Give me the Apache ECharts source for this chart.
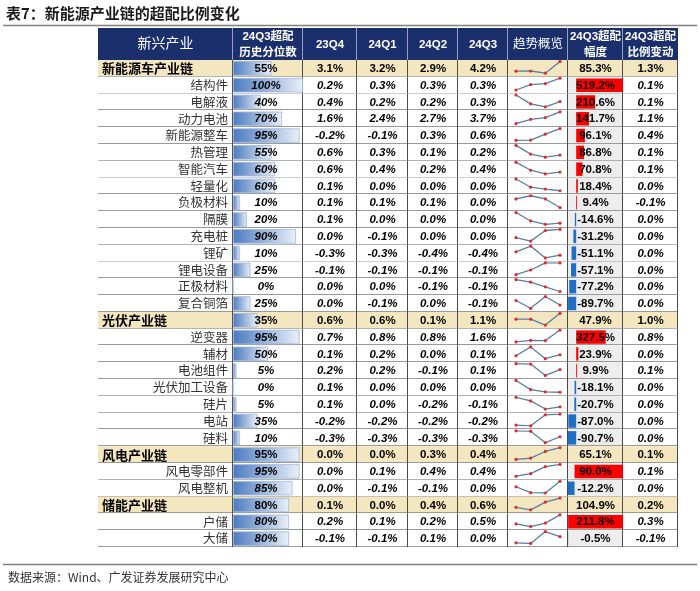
<!DOCTYPE html>
<html><head><meta charset="utf-8">
<script src="https://cdn.jsdelivr.net/npm/echarts@6/dist/echarts.min.js"></script>
<style>html,body{margin:0;padding:0;background:#fff}#c{width:700px;height:591px}</style>
</head><body><div id="c"></div>
<script>
// ---------------- DATA ----------------
const industries = ['新能源车产业链','结构件','电解液','动力电池','新能源整车','热管理','智能汽车','轻量化','负极材料','隔膜','充电桩','锂矿','锂电设备','正极材料','复合铜箔','光伏产业链','逆变器','辅材','电池组件','光伏加工设备','硅片','电站','硅料','风电产业链','风电零部件','风电整机','储能产业链','户储','大储'];
const chainNames = ['新能源车产业链','光伏产业链','风电产业链','储能产业链'];
const headers = ['新兴产业','24Q3超配\n历史分位数','23Q4','24Q1','24Q2','24Q3','趋势概览','24Q3超配\n幅度','24Q3超配\n比例变动'];
const quarters = ['23Q4','24Q1','24Q2','24Q3'];
const pctRank = [55,100,40,70,95,55,60,60,10,20,90,10,25,0,25,35,95,50,5,0,5,35,10,95,95,85,80,80,80];
const q23Q4 = [3.1,0.2,0.4,1.6,-0.2,0.6,0.6,0.1,0.1,0.1,0.0,-0.3,-0.1,0.0,0.0,0.6,0.7,0.1,0.2,0.1,0.1,-0.2,-0.3,0.0,0.0,0.0,0.1,0.2,-0.1];
const q24Q1 = [3.2,0.3,0.2,2.4,-0.1,0.3,0.4,0.0,0.1,0.0,-0.1,-0.3,-0.1,0.0,-0.1,0.6,0.8,0.2,0.2,0.0,0.0,-0.2,-0.3,0.0,0.1,-0.1,0.0,0.1,-0.1];
const q24Q2 = [2.9,0.3,0.2,2.7,0.3,0.1,0.2,0.0,0.1,0.0,0.0,-0.4,-0.1,-0.1,0.0,0.1,0.8,0.0,-0.1,0.0,-0.2,-0.2,-0.3,0.3,0.4,-0.1,0.4,0.2,0.1];
const q24Q3 = [4.2,0.3,0.3,3.7,0.6,0.2,0.4,0.0,0.0,0.0,0.0,-0.4,-0.1,-0.1,-0.1,1.1,1.6,0.1,0.1,0.0,-0.1,-0.2,-0.3,0.4,0.4,0.0,0.6,0.5,0.0];
// unrounded estimates behind the sparklines (23Q4..24Q3)
const trendValues = [
 [3.14,3.16,2.92,4.22],[0.22,0.266,0.274,0.32],[0.36,0.24,0.20,0.27],[1.6,2.35,2.66,3.7],
 [-0.16,-0.14,0.26,0.64],[0.60,0.26,0.14,0.22],[0.6,0.34,0.22,0.28],[0.10,0.03,0.014,0.0],
 [0.10,0.13,0.10,0.02],[0.08,0.03,0.01,0.017],[-0.04,-0.07,0.02,0.03],[-0.338,-0.26,-0.42,-0.383],
 [-0.14,-0.12,-0.09,-0.09],[0.0,-0.02,-0.06,-0.10],[-0.027,-0.08,0.0,-0.058],[0.6,0.6,0.1,1.1],
 [0.7,0.82,0.8,1.6],[0.07,0.16,0.04,0.08],[0.2,0.19,-0.08,0.06],[0.09,0.02,0.003,0.0],
 [0.1,0.02,-0.16,-0.11],[-0.24,-0.245,-0.17,-0.165],[-0.26,-0.262,-0.33,-0.295],[0.0,0.045,0.27,0.40],
 [0.03,0.12,0.362,0.44],[-0.022,-0.067,-0.07,0.02],[0.14,0.02,0.4,0.6],[0.19,0.1,0.22,0.5],[-0.1,-0.11,0.1,0.01]
];
const amplitude = [85.3,519.2,210.6,141.7,96.1,86.8,70.8,18.4,9.4,-14.6,-31.2,-51.1,-57.1,-77.2,-89.7,47.9,327.5,23.9,9.9,-18.1,-20.7,-87.0,-90.7,65.1,90.0,-12.2,104.9,211.8,-0.5];
const ratioChange = [1.3,0.1,0.1,1.1,0.4,0.1,0.1,0.0,-0.1,0.0,0.0,0.0,0.0,0.0,0.0,1.0,0.8,0.0,0.1,0.0,0.0,0.0,0.0,0.1,0.1,0.0,0.2,0.3,-0.1];
// data-bar colour-scale groups per chain (NEV+PV share one scale)
const ampScaleOfChain = [0,0,1,2];

// ---------------- LAYOUT ----------------
const colBounds = [98,233,303,357,408,458,508,568,623,678];
const headerTop = 28, tableTop = 60, tableBottom = 547;
const nRows = industries.length;
const rowH = (tableBottom - tableTop) / nRows;
const NUM_FONT = "'Liberation Sans', Arial, 'Noto Sans CJK SC', sans-serif";
const CJK_FONT = "'Noto Sans CJK SC', sans-serif";
const BEIGE = '#F4E6BF', NAVY = '#1B2F6D';

const isChain = industries.map(n => chainNames.includes(n));
let ci = -1;
const chainIdx = industries.map((n, i) => { if (isChain[i]) ci++; return ci; });
const colValues = [null, pctRank, q23Q4, q24Q1, q24Q2, q24Q3, null, amplitude, ratioChange];

const grids = [], xAxes = [], yAxes = [], series = [];
const rowData = industries.map((_, i) => [0, i]);

function bgRenderer(c) {
  return function (params, api) {
    const i = api.value(1);
    const cs = params.coordSys;
    const ctr = api.coord([0, i]);
    const h = api.size([0, 1])[1];
    const top = ctr[1] - h / 2;
    const fill = isChain[i] ? BEIGE : (c === 7 ? '#EDEDED' : '#FFFFFF');
    const yb = Math.round(top + h) - 0.5;
    const xr = Math.round(cs.x + cs.width) - 0.5;
    return { type: 'group', children: [
      { type: 'rect', shape: { x: cs.x, y: top, width: cs.width, height: h }, style: { fill: fill } },
      { type: 'line', shape: { x1: cs.x, y1: yb, x2: cs.x + cs.width, y2: yb }, style: { stroke: '#9A9A9A', lineWidth: 1 } },
      { type: 'line', shape: { x1: xr, y1: top, x2: xr, y2: top + h }, style: { stroke: '#4A4A4A', lineWidth: 1 } }
    ]};
  };
}
function textRenderer(c) {
  return function (params, api) {
    const i = api.value(1);
    const cs = params.coordSys;
    const ctr = api.coord([0, i]);
    let style;
    if (c === 0) {
      style = isChain[i]
        ? { x: cs.x + 4, y: ctr[1], text: industries[i], fill: '#000', fontSize: 13, fontWeight: 'bold', fontFamily: CJK_FONT, align: 'left', verticalAlign: 'middle' }
        : { x: cs.x + cs.width - 5, y: ctr[1], text: industries[i], fill: '#333', fontSize: 12.5, fontWeight: 'normal', fontFamily: CJK_FONT, align: 'right', verticalAlign: 'middle' };
    } else {
      const v = colValues[c][i];
      const txt = c === 1 ? v + '%' : v.toFixed(1) + '%';
      const italic = (c !== 7) && !isChain[i];
      style = { x: cs.x + cs.width / 2 + (c === 1 ? -2 : 0), y: ctr[1] + 0.5, text: txt, fill: '#000', fontSize: 11.5,
        fontWeight: 'bold', fontStyle: italic ? 'italic' : 'normal', fontFamily: NUM_FONT, align: 'center', verticalAlign: 'middle' };
    }
    return { type: 'text', style: style };
  };
}

for (let c = 0; c < 9; c++) {
  grids.push({ left: colBounds[c], width: colBounds[c + 1] - colBounds[c], top: tableTop, height: tableBottom - tableTop });
  const g = grids.length - 1;
  yAxes.push({ type: 'category', gridIndex: g, data: industries, inverse: true, show: false });
  const yi = yAxes.length - 1;
  let xi;
  if (c === 1) { xAxes.push({ type: 'value', gridIndex: g, min: 0, max: 100, show: false }); xi = xAxes.length - 1; }
  else { xAxes.push({ type: 'value', gridIndex: g, min: 0, max: 1, show: false }); xi = xAxes.length - 1; }

  series.push({ type: 'custom', xAxisIndex: xi, yAxisIndex: yi, z: 1, silent: true, encode: { x: 0, y: 1 }, data: rowData, renderItem: bgRenderer(c) });
  if (c !== 6) series.push({ type: 'custom', xAxisIndex: xi, yAxisIndex: yi, z: 10, silent: true, encode: { x: 0, y: 1 }, data: rowData, renderItem: textRenderer(c) });

  if (c === 1) {
    series.push({ type: 'bar', xAxisIndex: xi, yAxisIndex: yi, z: 3, silent: true, data: pctRank, barWidth: '86%',
      itemStyle: { color: { type: 'linear', x: 0, y: 0, x2: 1, y2: 0, colorStops: [{ offset: 0, color: '#4C7BC0' }, { offset: 1, color: '#EAF0F8' }] },
        borderColor: '#9FB8DD', borderWidth: 0.8 } });
  }
  if (c === 7) {
    for (let s = 0; s < 3; s++) {
      const vals = amplitude.filter((v, i) => !isChain[i] && ampScaleOfChain[chainIdx[i]] === s);
      xAxes.push({ type: 'value', gridIndex: g, min: Math.min(...vals), max: Math.max(...vals), show: false });
      const axi = xAxes.length - 1;
      series.push({ type: 'bar', xAxisIndex: axi, yAxisIndex: yi, z: 3, silent: true, barWidth: '80%', barGap: '-100%',
        data: amplitude.map((v, i) => (!isChain[i] && ampScaleOfChain[chainIdx[i]] === s) ? v : '-'),
        itemStyle: { color: p => p.value >= 0 ? '#FF0000' : '#1F6FC4' } });
    }
  }
}

// sparklines: one small grid per row
trendValues.forEach((vals, i) => {
  grids.push({ left: 516, width: 44, top: tableTop + i * rowH + 1.4, height: rowH - 5 });
  const g = grids.length - 1;
  xAxes.push({ type: 'category', gridIndex: g, data: quarters, boundaryGap: false, show: false });
  yAxes.push({ type: 'value', gridIndex: g, min: 'dataMin', max: 'dataMax', scale: true, show: false });
  series.push({ type: 'line', xAxisIndex: xAxes.length - 1, yAxisIndex: yAxes.length - 1, z: 5, silent: true, data: vals,
    symbol: 'circle', symbolSize: 3.2, showSymbol: true, itemStyle: { color: '#E02A2A', borderWidth: 0 },
    lineStyle: { color: '#5A7DA6', width: 1.3 } });
});

// header + frame graphics
const graphic = [];
graphic.push({ type: 'text', left: 6, top: 6, style: { text: '表7：新能源产业链的超配比例变化', fill: '#1a1a1a', fontSize: 15, fontWeight: 'bold', fontFamily: CJK_FONT } });
graphic.push({ type: 'line', shape: { x1: 3, y1: 25.5, x2: 697, y2: 25.5 }, style: { stroke: '#808080', lineWidth: 1.5 } });
graphic.push({ type: 'rect', shape: { x: colBounds[0], y: headerTop, width: colBounds[9] - colBounds[0], height: tableTop - headerTop }, style: { fill: NAVY } });
for (let c = 1; c < 9; c++) {
  graphic.push({ type: 'line', shape: { x1: colBounds[c] - 0.5, y1: headerTop, x2: colBounds[c] - 0.5, y2: tableTop }, style: { stroke: 'rgba(255,255,255,0.55)', lineWidth: 1 } });
}
headers.forEach((h, c) => {
  const isCJK = (c === 0 || c === 6);
  graphic.push({ type: 'text', x: (colBounds[c] + colBounds[c + 1]) / 2, y: (headerTop + tableTop) / 2 + 0.5,
    style: { text: h, fill: '#fff', fontSize: isCJK ? (c === 0 ? 14 : 12.5) : 11.5, fontWeight: isCJK ? 'normal' : 'bold',
      fontFamily: NUM_FONT, align: 'center', verticalAlign: 'middle', lineHeight: 16 } });
});
graphic.push({ type: 'line', shape: { x1: colBounds[0], y1: tableBottom - 0.5, x2: colBounds[9], y2: tableBottom - 0.5 }, style: { stroke: '#4A4A4A', lineWidth: 1 } });
graphic.push({ type: 'line', shape: { x1: 3, y1: 564.5, x2: 697, y2: 564.5 }, style: { stroke: '#808080', lineWidth: 1.5 } });
graphic.push({ type: 'text', left: 8, top: 571, style: { text: '数据来源：Wind、广发证券发展研究中心', fill: '#333', fontSize: 12, fontFamily: CJK_FONT } });

const chart = echarts.init(document.getElementById('c'), null, { renderer: 'canvas' });
chart.setOption({ animation: false, backgroundColor: '#fff', grid: grids, xAxis: xAxes, yAxis: yAxes, series: series, graphic: graphic });
</script></body></html>
